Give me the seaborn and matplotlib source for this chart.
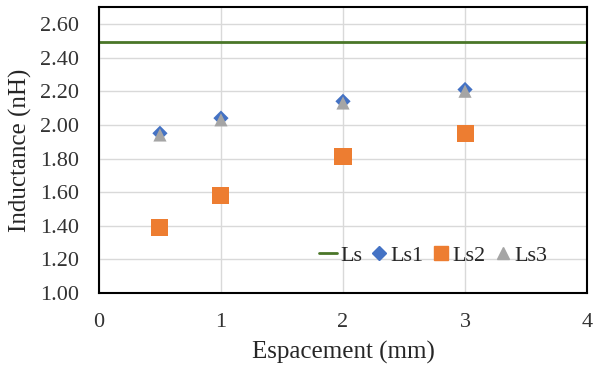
import numpy as np
import pandas as pd
import seaborn as sns
import matplotlib.pyplot as plt
from matplotlib.lines import Line2D

# data
espacement = [0.5, 1, 2, 3]
ls1 = [1.95, 2.04, 2.14, 2.21]
ls2 = [1.39, 1.58, 1.81, 1.95]
ls3 = [1.94, 2.03, 2.13, 2.20]
ls_x = [0, 4]
ls_val = [2.49, 2.49]

sns.set_style("white")
plt.rcParams['font.family'] = ['Liberation Serif', 'DejaVu Serif']

df = pd.DataFrame({
    "x": espacement * 3,
    "y": ls1 + ls2 + ls3,
    "serie": ["Ls1"] * 4 + ["Ls2"] * 4 + ["Ls3"] * 4,
})
df_ls = pd.DataFrame({"x": ls_x, "y": ls_val})

couleurs = {"Ls1": "#4472C4", "Ls2": "#ED7D31", "Ls3": "#A5A5A5"}
marqueurs = {"Ls1": "D", "Ls2": "s", "Ls3": "^"}
tailles = {"Ls1": 60, "Ls2": 150, "Ls3": 90}

fig = plt.figure(figsize=(5.96, 3.72), dpi=100)
ax = fig.add_axes([0.166, 0.212, 0.819, 0.769])

sns.lineplot(data=df_ls, x="x", y="y", color="#4a7628", lw=2, ax=ax, legend=False)
for s in ["Ls1", "Ls2", "Ls3"]:
    sub = df[df["serie"] == s]
    sns.scatterplot(data=sub, x="x", y="y", color=couleurs[s], marker=marqueurs[s],
                    s=tailles[s], edgecolor="none", ax=ax, legend=False, zorder=3)

ax.set_xlim(0, 4)
ax.set_ylim(1.0, 2.7)
ax.set_xticks([0, 1, 2, 3, 4])
ax.set_yticks(np.arange(1.0, 2.61, 0.2))
ax.set_yticklabels([f"{v:.2f}" for v in np.arange(1.0, 2.61, 0.2)])
ax.grid(True, color="#d9d9d9", lw=1)
ax.set_axisbelow(True)
for sp in ax.spines.values():
    sp.set_color("black")
    sp.set_linewidth(1.5)
ax.tick_params(axis="both", length=0, labelsize=16, colors="#333333")
ax.tick_params(axis="x", pad=14)
ax.tick_params(axis="y", pad=14)
ax.set_xlabel("Espacement (mm)", fontsize=18, labelpad=7)
ax.set_ylabel("Inductance (nH)", fontsize=18, labelpad=6)

handles = [
    Line2D([], [], color="#4a7628", lw=2),
    Line2D([], [], color=couleurs["Ls1"], marker="D", ls="none", ms=7),
    Line2D([], [], color=couleurs["Ls2"], marker="s", ls="none", ms=10),
    Line2D([], [], color=couleurs["Ls3"], marker="^", ls="none", ms=9),
]
ax.legend(handles, ["Ls", "Ls1", "Ls2", "Ls3"], ncol=4, frameon=False,
          loc="center", bbox_to_anchor=(0.685, 0.13), fontsize=16,
          handlelength=0.8, handletextpad=0.15, columnspacing=0.35)

fig.savefig("out.png", dpi=100)
